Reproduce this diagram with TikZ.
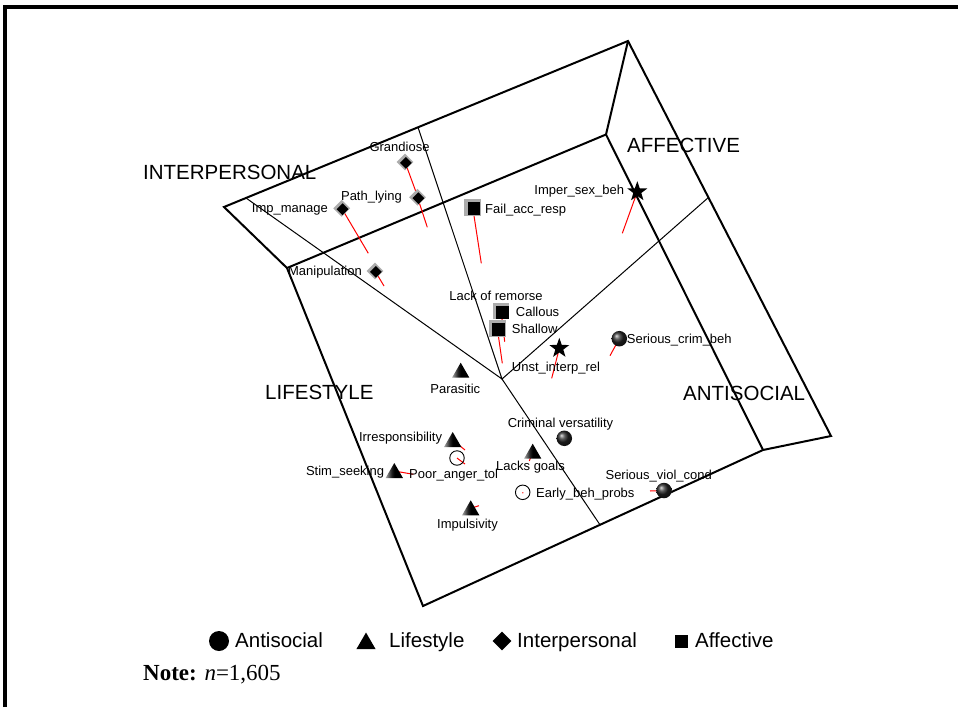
\documentclass[tikz,border=0pt]{standalone}
\usepackage{fontspec}
\setmainfont{Liberation Sans}
\newfontfamily\notefont{Liberation Serif}
\usetikzlibrary{shapes.geometric}
\pgfdeclarehorizontalshading{trishade}{100bp}{color(0bp)=(gray!70); color(25bp)=(gray!70); color(42bp)=(gray!25!black); color(50bp)=(black); color(100bp)=(black)}
\begin{document}
\begin{tikzpicture}[x=1pt,y=-1pt,
  thickln/.style={line width=2pt, line join=miter},
  thinln/.style={line width=1pt},
  redln/.style={red, line width=1pt},
  lbl/.style={font=\fontsize{13}{15}\selectfont, inner sep=0pt, text height=9.4pt, text depth=0pt},
  reg/.style={font=\fontsize{20.5}{24}\selectfont, inner sep=0pt, text height=14.7pt, text depth=0pt},
  diaout/.style={diamond, fill=gray!65, minimum size=17pt, inner sep=0pt},
  diain/.style={diamond, fill=black, minimum size=12pt, inner sep=0pt, xshift=.9pt, yshift=-.9pt},
  sqout/.style={rectangle, fill=gray!65, minimum size=16.5pt, inner sep=0pt},
  sqin/.style={rectangle, fill=black, minimum size=12.5pt, inner sep=0pt, xshift=1.4pt, yshift=-1.4pt},
  starmk/.style={star, star points=5, star point ratio=2.5, minimum size=21pt, inner sep=0pt, fill=black},
  ballmk/.style={circle, minimum size=15.5pt, inner sep=0pt, shading=ball, ball color=black!85},
  trimk/.style={regular polygon, regular polygon sides=3, minimum size=20pt, inner sep=0pt, shading=trishade, draw=none, yshift=-2pt},
  openmk/.style={circle, draw=black, line width=0.9pt, minimum size=14.5pt, inner sep=0pt},
  legcirc/.style={circle, fill=black, minimum size=20pt, inner sep=0pt},
  legtri/.style={regular polygon, regular polygon sides=3, fill=black, minimum size=22pt, inner sep=0pt, yshift=-2.5pt},
  legdia/.style={diamond, fill=black, minimum size=19pt, inner sep=0pt},
  legsq/.style={rectangle, fill=black, minimum size=13pt, inner sep=0pt}
]
\useasboundingbox (0,0) rectangle (958,707);
% frame
\draw[line width=3.6pt] (5,707) -- (5,7) -- (958,7);

% polygon vertices
\coordinate (A) at (224,207);
\coordinate (B) at (628,41);
\coordinate (C) at (831,436);
\coordinate (D) at (763,450);
\coordinate (E) at (423,606);
\coordinate (F) at (287,268);
\coordinate (G) at (606,134.5);
\coordinate (O) at (502,379);
\coordinate (P1) at (246,198);
\coordinate (P2) at (418,127.3);
\coordinate (P3) at (708.4,197.5);
\coordinate (P4) at (600,524.8);

\draw[thinln] (P1) -- (O) -- (P2);
\draw[thinln] (P3) -- (O) -- (P4);
\draw[thickln] (A) -- (B) -- (C) -- (D) -- (E) -- (F) -- cycle;
\draw[thickln] (F) -- (G) -- (B);
\draw[thickln] (G) -- (D);

% region labels
\node[reg, anchor=west] (tInter) at (143,172) {INTERPERSONAL};
\node[reg, anchor=west] (tAff) at (627,145.5) {AFFECTIVE};
\node[reg, anchor=west] (tLife) at (265,392.5) {LIFESTYLE};
\node[reg, anchor=west] (tAnti) at (683,393.3) {ANTISOCIAL};

% marker positions and red displacement lines
\coordinate (gr) at (405,162);      \coordinate (gr-e) at (416,192);
\coordinate (pl) at (417.5,197.3);  \coordinate (pl-e) at (427.3,227.3);
\coordinate (im) at (341.7,208.3);  \coordinate (im-e) at (368.3,253.3);
\coordinate (ma) at (375,271);      \coordinate (ma-e) at (384,286);
\coordinate (fa) at (472.7,207.3);  \coordinate (fa-e) at (481.3,263.3);
\coordinate (ca) at (501,311);      \coordinate (ca-e) at (504.7,341.7);
\coordinate (sh) at (497.3,328.3);  \coordinate (sh-e) at (502.3,363.3);
\coordinate (is) at (637.3,191.7);  \coordinate (is-e) at (622.3,233.3);
\coordinate (ui) at (559.3,348.3);  \coordinate (ui-e) at (551.7,378.3);
\coordinate (sc) at (619.3,338.7);  \coordinate (sc-e) at (610,355.7);
\coordinate (cv) at (564.3,438.3);
\coordinate (sv) at (664,490.5);    \coordinate (sv-e) at (650,491);
\coordinate (eb) at (522.7,492.3);  \coordinate (eb-e) at (522.9,493.3);
\coordinate (pa) at (457,458);      \coordinate (pa-e) at (465,464);
\coordinate (ps) at (460.7,370.7);
\coordinate (ir) at (452.7,440);    \coordinate (ir-e) at (465,450);
\coordinate (ss) at (394.3,471);    \coordinate (ss-e) at (413.3,474.3);
\coordinate (lg) at (532.7,451.7);  \coordinate (lg-e) at (529.3,461);
\coordinate (ip) at (470.7,508.3);  \coordinate (ip-e) at (479,505.7);

\foreach \p in {gr,pl,im,ma,fa,ca,sh,is,ui,sc,sv,eb,pa,ir,ss,lg,ip}
  \draw[redln] (\p) -- (\p-e);

% interpersonal diamonds
\foreach \p in {gr,pl,im,ma}{
  \node[diaout] (\p-o) at (\p) {};
  \node[diain] (\p-i) at (\p) {};
}
% affective squares
\foreach \p in {fa,sh,ca}{
  \node[sqout] (\p-o) at (\p) {};
  \node[sqin] (\p-i) at (\p) {};
}
% stars
\node[starmk] (is-m) at (is) {};
\node[starmk] (ui-m) at (ui) {};
% antisocial balls
\node[ballmk] (sc-m) at (sc) {};
\node[ballmk] (cv-m) at (cv) {};
\node[ballmk] (sv-m) at (sv) {};
% open circles
\node[openmk] (eb-m) at (eb) {};
\node[openmk] (pa-m) at (pa) {};
% lifestyle triangles
\node[trimk] (ps-m) at (ps) {};
\node[trimk] (ir-m) at (ir) {};
\node[trimk] (ss-m) at (ss) {};
\node[trimk] (lg-m) at (lg) {};
\node[trimk] (ip-m) at (ip) {};

% item labels
\node[lbl] (gr-t) at (399.5,146.7) {Grandiose};
\node[lbl, anchor=east] (pl-t) at (402,196) {Path\_lying};
\node[lbl, anchor=east] (im-t) at (328,208) {Imp\_manage};
\node[lbl, anchor=east] (ma-t) at (362,271) {Manipulation};
\node[lbl, anchor=west] (fa-t) at (485,208.7) {Fail\_acc\_resp};
\node[lbl] (lr-t) at (496,295.7) {Lack of remorse};
\node[lbl, anchor=west] (ca-t) at (515.7,311.7) {Callous};
\node[lbl, anchor=west] (sh-t) at (511.7,328.7) {Shallow};
\node[lbl, anchor=east] (is-t) at (624.3,189.3) {Imper\_sex\_beh};
\node[lbl, anchor=west] (ui-t) at (511.7,366.7) {Unst\_interp\_rel};
\node[lbl, anchor=west] (sc-t) at (626.7,338.7) {Serious\_crim\_beh};
\node[lbl] (ps-t) at (455.3,388.3) {Parasitic};
\node[lbl, anchor=east] (ir-t) at (442.3,436.7) {Irresponsibility};
\node[lbl, anchor=east] (ss-t) at (384.3,470.7) {Stim\_seeking};
\node[lbl, anchor=west] (pa-t) at (409,473.3) {Poor\_anger\_tol};
\node[lbl, anchor=west] (lg-t) at (496,466) {Lacks goals};
\node[lbl] (cv-t) at (560.5,422.3) {Criminal versatility};
\node[lbl, anchor=west] (eb-t) at (536,492.7) {Early\_beh\_probs};
\node[lbl] (sv-t) at (658.7,475) {Serious\_viol\_cond};
\node[lbl] (ip-t) at (467.5,524) {Impulsivity};

% legend
\node[legcirc] (lg1) at (219,641) {};
\node[reg, anchor=west] (lg1-t) at (235,640.5) {Antisocial};
\node[legtri] (lg2) at (366,641) {};
\node[reg, anchor=west] (lg2-t) at (389,640.5) {Lifestyle};
\node[legdia] (lg3) at (502,641) {};
\node[reg, anchor=west] (lg3-t) at (517,640.5) {Interpersonal};
\node[legsq] (lg4) at (681,641) {};
\node[reg, anchor=west] (lg4-t) at (695,640.5) {Affective};

% note
\node[anchor=base west, inner sep=0pt, font=\notefont\fontsize{23}{26}\selectfont] (note) at (143,680) {\textbf{Note:} \textit{n}=1,605};
\end{tikzpicture}
\end{document}
